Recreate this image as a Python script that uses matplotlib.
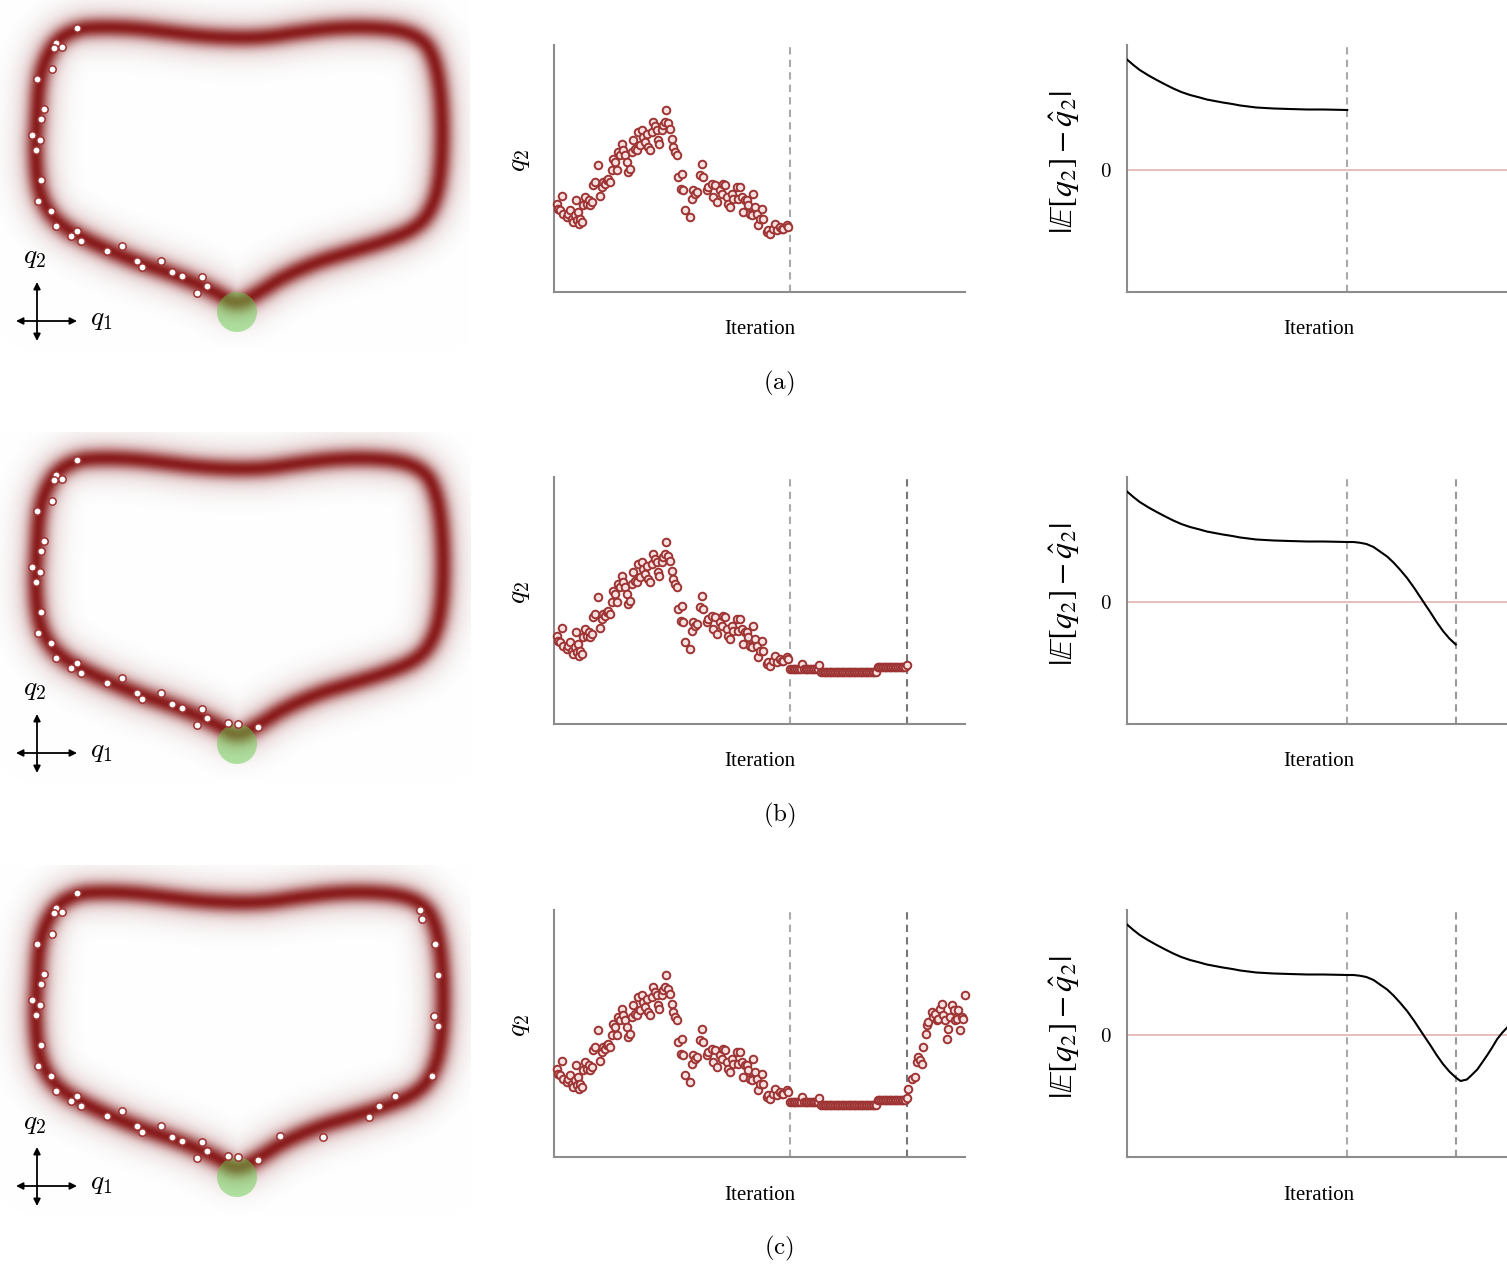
import numpy as np
import matplotlib
matplotlib.use("Agg")
import matplotlib.pyplot as plt
from matplotlib.patches import Circle

plt.rcParams['mathtext.fontset'] = 'cm'
plt.rcParams['font.family'] = ['Liberation Serif', 'DejaVu Serif']

W, H = 1507, 1267
ROW_OFF = [0, 432, 865]
CAPTIONS = ['(a)', '(b)', '(c)']

# centre line of the target density (panel pixels, y downwards), tip first
loop_x = [237, 260, 283, 317, 350, 383, 413, 430, 440, 443, 440, 432, 420, 400, 367,
          333, 300, 267, 237, 200, 167, 133, 100, 77, 57, 45, 39, 37, 35, 38, 47, 63,
          87, 113, 140, 167, 193, 217]
loop_y = [305, 292, 277, 262, 252, 242, 230, 213, 183, 133, 83, 52, 38, 30, 27,
          28, 32, 37, 38, 36, 32, 28, 27, 29, 40, 60, 83, 117, 150, 187, 210, 227,
          240, 252, 263, 272, 282, 293]
mode_xy = (237, 312)

# HMC samples shown on the density, added row by row
samples_a = [(77, 28), (56, 43), (54, 48), (62, 47), (52, 69), (37, 79), (44, 109), (41, 119),
             (32, 135), (40, 140), (36, 150), (41, 180), (38, 201), (51, 211), (56, 226),
             (77, 231), (71, 236), (81, 241), (107, 251), (122, 246), (137, 261), (142, 267),
             (161, 261), (172, 272), (182, 276), (202, 277), (207, 286), (197, 293)]
samples_b = [(228, 291), (238, 292), (258, 295)]
samples_c = [(280, 271), (323, 272), (369, 252), (379, 241), (395, 231), (432, 211),
             (438, 161), (434, 151), (438, 110), (435, 79), (422, 54), (420, 45)]

# q2 trace, first stage
seg1_iter = [1.6, 2.5, 3.5, 4.5, 5.5, 7.4, 8.4, 9.3, 10.3, 11.3, 12.3, 12.8, 13.2, 14.2, 14.8,
             15.2, 16.2, 17.1, 18.1, 19.1, 20.6, 21.0, 22.0, 23.0, 24.0, 25.9, 26.9, 27.8,
             28.8, 29.8, 30.8, 31.7, 32.7, 33.7, 34.7, 35.6, 36.6, 37.6, 38.5, 39.5, 40.5,
             41.5, 42.4, 43.4, 44.4, 45.4, 46.3, 47.3, 48.3, 49.3, 50.2, 51.2, 52.2, 53.1,
             54.1, 55.1, 56.1, 57.0, 58.0, 59.0, 60.0, 60.9, 61.5, 62.9, 63.9, 64.8, 65.4,
             66.8, 67.8, 68.7, 69.7, 70.7, 71.6, 72.6, 74.0, 74.6, 75.5, 76.5, 79.4, 80.4,
             81.4, 82.4, 83.3, 85.3, 86.3, 87.2, 89.2, 90.1, 92.1, 93.1, 94.0, 95.0, 97.0,
             97.9, 98.9, 99.9, 100.9, 101.8, 102.8, 103.8, 104.7, 106.7, 107.7, 108.6,
             109.6, 110.6, 111.6, 112.5, 113.5, 114.5, 115.5, 116.4, 117.4, 118.4, 119.3,
             120.3, 121.3, 122.3, 124.2, 125.0, 126.2, 128.1, 129.1, 130.1, 132.0, 133.0,
             134.0, 135.9, 136.9]
seg1_q2 = [-0.23, -0.33, -0.36, -0.08, -0.43, -0.49, -0.43, -0.36, -0.53, -0.59, -0.46, -0.16,
           -0.56, -0.39, -0.63, -0.53, -0.59, -0.26, -0.09, -0.23, -0.16, -0.26, -0.19, 0.14,
           0.21, 0.54, -0.08, 0.11, 0.21, 0.17, 0.24, 0.27, 0.21, 0.44, 0.67, 0.61, 0.44, 0.81,
           0.74, 0.97, 0.84, 0.74, 0.61, 0.41, 0.47, 0.81, 1.04, 0.87, 0.84, 1.21, 0.94, 1.24,
           1.11, 1.01, 1.17, 0.91, 0.84, 1.21, 1.41, 1.31, 1.24, 1.04, 0.97, 1.24, 1.34, 1.41,
           1.64, 1.37, 1.27, 1.07, 0.91, 0.81, 0.74, 0.31, 0.07, 0.37, 0.04, -0.36, -0.49,
           -0.13, 0.04, -0.03, 0.01, 0.34, 0.57, 0.31, 0.04, 0.11, 0.17, -0.09, 0.14, -0.19,
           0.04, -0.03, 0.17, 0.14, -0.09, -0.23, -0.29, -0.03, -0.13, 0.11, -0.13, 0.11,
           -0.09, -0.39, -0.16, -0.16, -0.26, -0.43, -0.46, -0.03, -0.29, -0.43, -0.66,
           -0.53, -0.33, -0.53, -0.79, -0.75, -0.83, -0.73, -0.63, -0.76, -0.69, -0.74,
           -0.73, -0.66, -0.69]

# second stage: the chain barely moves (runs of repeated samples)
seg2_start = 138
seg2_q2 = [-0.89, -0.80, -0.89, -0.82, -0.95, -0.85, -0.82]
seg2_runs = [7, 1, 9, 1, 33, 17, 1]

# third stage
seg3_iter = [207.0, 208.9, 210.9, 211.8, 212.8, 213.8, 214.8, 215.7, 217.3, 217.7, 218.6,
             220.6, 221.6, 222.5, 223.5, 224.5, 225.5, 226.4, 227.4, 228.4, 229.4, 230.3,
             231.3, 232.3, 233.3, 234.3, 235.2, 236.2, 237.2, 238.1, 239.1, 240.1]
seg3_q2 = [-0.63, -0.43, -0.39, -0.09, 0.01, -0.06, -0.13, 0.21, 0.47, 0.64, 0.71, 0.91,
           0.81, 0.87, 0.74, 0.77, 0.97, 1.07, 0.84, 0.74, 0.37, 0.57, 0.81, 1.04, 0.94,
           0.74, 0.77, 0.94, 0.54, 0.81, 0.77, 1.24]

stage_ends = [138, 206]

# |E[q2] - q2_hat|
err_iter = [0, 4, 8, 13, 18.6, 24, 29, 34, 39.5, 45, 50, 55, 60, 66, 71, 81, 92, 102, 113,
            123, 138, 142, 146, 150, 154.5, 158.5, 163, 167, 171, 175.5, 180, 186, 190, 194,
            198, 202, 206, 209, 213, 216, 219.5, 223, 226, 229, 232, 235, 238.2]
err_val = [2.21, 2.1, 2.0, 1.9, 1.8, 1.71, 1.63, 1.56, 1.5, 1.455, 1.41, 1.38, 1.35, 1.32,
           1.29, 1.25, 1.23, 1.22, 1.21, 1.21, 1.2, 1.2, 1.185, 1.16, 1.1, 1.01, 0.91, 0.79,
           0.65, 0.48, 0.28, -0.01, -0.2, -0.4, -0.58, -0.73, -0.85, -0.92, -0.89, -0.8,
           -0.69, -0.53, -0.39, -0.24, -0.08, 0.04, 0.15]

RED = (0.54, 0.1, 0.1)
MARK = (0.62, 0.2, 0.2)

fig = plt.figure(figsize=(W / 100, H / 100), dpi=100)


def pix_axes(x0, y0, x1, y1):
    return fig.add_axes([x0 / W, 1 - y1 / H, (x1 - x0) / W, (y1 - y0) / H])


def chaikin(xs, ys, n=2):
    p = np.column_stack([xs, ys]).astype(float)
    for _ in range(n):
        q = np.roll(p, -1, axis=0)
        a = 0.75 * p + 0.25 * q
        b = 0.25 * p + 0.75 * q
        p = np.stack([a, b], axis=1).reshape(-1, 2)
    return p


# density image (same for every row)
pts = chaikin(loop_x, loop_y)
gx, gy = np.meshgrid(np.arange(0, 470) + 0.5, np.arange(0, 350) + 0.5)
dist = np.full(gx.shape, np.inf)
for i in range(len(pts)):
    x0, y0 = pts[i]
    x1, y1 = pts[(i + 1) % len(pts)]
    dx, dy = x1 - x0, y1 - y0
    t = np.clip(((gx - x0) * dx + (gy - y0) * dy) / (dx * dx + dy * dy), 0, 1)
    dist = np.minimum(dist, np.hypot(gx - x0 - t * dx, gy - y0 - t * dy))
core = np.exp(-(dist / 9.5) ** 2)
halo = 0.25 * np.exp(-(dist / 21) ** 2)
a = core + (1 - core) * halo
haze = 0.03 * np.exp(-(dist / 42) ** 6)
img = np.ones(gx.shape + (3,))
for c in range(3):
    img[..., c] = (1 - a) * 1.0 + a * RED[c]
    img[..., c] = img[..., c] * (1 - haze) + haze * 0.55

seg2_iter = seg2_start + np.arange(sum(seg2_runs))
seg2_vals = np.repeat(seg2_q2, seg2_runs)

for row, off in enumerate(ROW_OFF):
    # left: target density with samples
    ax = pix_axes(0, off, 470, off + 350)
    ax.imshow(img, extent=(0, 470, 350, 0), interpolation='bilinear')
    ax.set_xlim(0, 470)
    ax.set_ylim(350, 0)
    ax.axis('off')
    ax.add_patch(Circle(mode_xy, 20, fc=(0.4, 0.8, 0.3), ec='none', alpha=0.5))
    smp = samples_a + (samples_b if row >= 1 else []) + (samples_c if row >= 2 else [])
    sx, sy = zip(*smp)
    ax.scatter(sx, sy, s=28, facecolor='white', edgecolor=MARK, lw=1.1, zorder=5)
    ax.annotate('', xy=(77, 321), xytext=(16, 321),
                arrowprops=dict(arrowstyle='<|-|>', lw=1.3, color='k', mutation_scale=10,
                                shrinkA=0, shrinkB=0))
    ax.annotate('', xy=(37, 282), xytext=(37, 341),
                arrowprops=dict(arrowstyle='<|-|>', lw=1.3, color='k', mutation_scale=10,
                                shrinkA=0, shrinkB=0))
    ax.text(35, 258, r'$q_2$', fontsize=20, ha='center', va='center')
    ax.text(101, 319, r'$q_1$', fontsize=20, ha='center', va='center')

    # middle: trace of q2
    ax = pix_axes(554, off + 45, 965, off + 292)
    xs = list(seg1_iter)
    ys = list(seg1_q2)
    if row >= 1:
        xs += list(seg2_iter)
        ys += list(seg2_vals)
    if row >= 2:
        xs += seg3_iter
        ys += seg3_q2
    ax.scatter(xs, ys, s=30, facecolor=(0.97, 0.88, 0.88), edgecolor=MARK, lw=1.4,
               clip_on=False, zorder=3)
    ax.set_xlim(0, 240)
    ax.set_ylim(-2.0, 2.94)
    ax.axvline(stage_ends[0], color='#aaaaaa', lw=1.5, ls=(0, (3.5, 2.5)), zorder=1)
    if row >= 1:
        ax.axvline(stage_ends[1], color='#777777', lw=1.5, ls=(0, (3.5, 2.5)), zorder=1)
    for s in ['top', 'right']:
        ax.spines[s].set_visible(False)
    for s in ['left', 'bottom']:
        ax.spines[s].set_color('#8c8c8c')
        ax.spines[s].set_linewidth(1.5)
    ax.set_xticks([])
    ax.set_yticks([])
    ax.text(-34 / 411, 0.534, r'$q_2$', rotation=90, fontsize=20, ha='center', va='center',
            transform=ax.transAxes)
    ax.text(0.5, -38 / 247, 'Iteration', fontsize=15, ha='center', va='center',
            transform=ax.transAxes)

    # right: error of the estimate
    ax = pix_axes(1127, off + 45, 1510, off + 292)
    ei = np.array(err_iter)
    ev = np.array(err_val)
    if row < 2:
        keep = ei <= stage_ends[row]
        ei, ev = ei[keep], ev[keep]
    ax.axhline(0, color='#e6b9b9', lw=1.3, zorder=1)
    ax.plot(ei, ev, color='black', lw=1.5, zorder=3)
    ax.set_xlim(0, 240)
    ax.set_ylim(-2.44, 2.5)
    ax.axvline(stage_ends[0], color='#aaaaaa', lw=1.5, ls=(0, (3.5, 2.5)), zorder=2)
    if row >= 1:
        ax.axvline(stage_ends[1], color='#999999', lw=1.5, ls=(0, (3.5, 2.5)), zorder=2)
    for s in ['top', 'right']:
        ax.spines[s].set_visible(False)
    for s in ['left', 'bottom']:
        ax.spines[s].set_color('#8c8c8c')
        ax.spines[s].set_linewidth(1.5)
    ax.set_xticks([])
    ax.set_yticks([0])
    ax.set_yticklabels([r'$0$'], fontsize=15)
    ax.tick_params(axis='y', length=0, pad=11)
    ax.text(-62 / 383, 0.524, r'$|\mathbb{E}[q_2]-\hat{q}_2|$', rotation=90, fontsize=23,
            ha='center', va='center', transform=ax.transAxes, math_fontfamily='stix')
    ax.text(0.5, -38 / 247, 'Iteration', fontsize=15, ha='center', va='center',
            transform=ax.transAxes)

    fig.text(779 / W, 1 - (off + 383) / H, r'$\mathrm{' + CAPTIONS[row] + '}$',
             fontsize=18, ha='center', va='center')

fig.savefig('out.png', dpi=100)
